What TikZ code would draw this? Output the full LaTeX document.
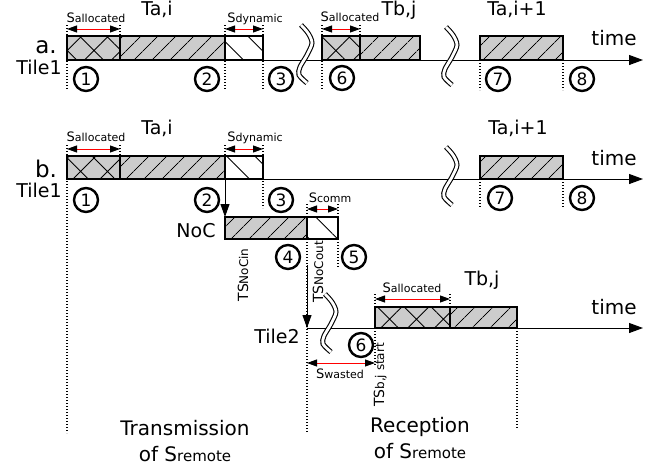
\documentclass[tikz,border=0pt]{standalone}
\usepackage{fontspec}
\setmainfont{DejaVu Sans}
\usetikzlibrary{arrows.meta,patterns.meta}
\newcommand\fsz[1]{\fontsize{#1}{#1}\selectfont}
\newcommand\Ssub[1]{{\fsz{13}S}{\fsz{11}#1}}
\newcommand\TSsub[1]{{\fsz{14}TS}{\fsz{12}#1}}
\begin{document}
\begin{tikzpicture}[x=1pt,y=-1pt,
  gbox/.style={draw, line width=1.8pt, inner sep=0pt, outer sep=0pt, anchor=north west, preaction={fill=gray!40}},
  hatchbox/.style={gbox, pattern={Lines[angle=45,distance=13pt,line width=0.9pt]}},
  xbox/.style={gbox, pattern={Hatch[angle=45,distance=19pt,line width=0.9pt]}},
  dynbox/.style={draw, line width=1.8pt, inner sep=0pt, outer sep=0pt, anchor=north west, preaction={fill=white}, pattern={Lines[angle=-45,distance=20pt,line width=0.9pt]}},
  dotline/.style={line width=1.5pt, dash pattern=on 1.4pt off 1.6pt},
  dimarrow/.style={red, line width=0.9pt, {Triangle[length=10pt,width=7pt,color=black]}-{Triangle[length=10pt,width=7pt,color=black]}},
  axisline/.style={line width=1pt, -{Triangle[length=14pt,width=10pt]}},
  varrow/.style={line width=1pt, -{Triangle[length=13pt,width=9pt]}},
  num/.style={circle, draw, line width=2.4pt, minimum size=24pt, inner sep=0pt, font=\fsz{17}},
  lab/.style={inner sep=0pt, anchor=base, font=\fsz{19}},
  biglab/.style={inner sep=0pt, anchor=base, font=\fsz{20}},
  sm/.style={inner sep=0pt, anchor=base},
  brk/.pic={\draw[double=white, double distance=2.8pt, line width=1.1pt] plot[smooth] coordinates {(0,0) (7,8) (11,18) (6,30) (-1,42) (-2,50) (6,58)};}
]
\useasboundingbox (0,0) rectangle (659,467);

% ---------------- (a) ----------------
\coordinate (aax0) at (67,60);
\coordinate (aax1) at (643,60);
\draw[axisline] (aax0) -- (aax1);
\pic at (301,25) {brk};
\pic at (446,27) {brk};

\node[xbox, minimum width=53pt, minimum height=24pt] (a1) at (67,36) {};
\node[hatchbox, minimum width=105pt, minimum height=24pt] (a2) at (120,36) {};
\node[dynbox, minimum width=38pt, minimum height=24pt] (a3) at (225,36) {};
\node[xbox, minimum width=38pt, minimum height=24pt] (a4) at (322,36) {};
\node[hatchbox, minimum width=60pt, minimum height=24pt] (a5) at (360,36) {};
\node[hatchbox, minimum width=83pt, minimum height=24pt] (a6) at (480,36) {};

\draw[dotline] (67,25) -- (67,90);
\draw[dotline] (120,25) -- (120,36);
\draw[dotline] (225,25) -- (225,90);
\draw[dotline] (263,25) -- (263,90);
\draw[dotline] (322,25) -- (322,90);
\draw[dotline] (360,25) -- (360,36);
\draw[dotline] (480,60) -- (480,90);
\draw[dotline] (563,60) -- (563,90);

\coordinate (ad1) at (67,29); \coordinate (ad2) at (120,29);
\coordinate (ad3) at (225,29); \coordinate (ad4) at (263,29);
\coordinate (ad5) at (322,29); \coordinate (ad6) at (360,29);
\draw[dimarrow] (ad1) -- (ad2);
\draw[dimarrow] (ad3) -- (ad4);
\draw[dimarrow] (ad5) -- (ad6);

\node[lab, font=\fsz{23}] (alabel) at (46,53) {a.};
\node[lab] (atile) at (39,74) {Tile1};
\node[lab] (aTai) at (157,15) {Ta,i};
\node[sm] (asal) at (96,22) {\Ssub{allocated}};
\node[sm] (asdyn) at (255,22) {\Ssub{dynamic}};
\node[sm] (asal2) at (350,21) {\Ssub{allocated}};
\node[lab] (aTbj) at (399,15) {Tb,j};
\node[lab] (aTai1) at (517,15) {Ta,i+1};
\node[biglab] (atime) at (614,45) {time};

\node[num] (an1) at (86,79) {1};
\node[num] (an2) at (207,79) {2};
\node[num] (an3) at (281,79) {3};
\node[num] (an6) at (342,78) {6};
\node[num] (an7) at (498,79) {7};
\node[num] (an8) at (582,79) {8};

% ---------------- (b) ----------------
\coordinate (bax0) at (67,179);
\coordinate (bax1) at (643,179);
\draw[axisline] (bax0) -- (bax1);
\pic at (446,147) {brk};

\node[xbox, minimum width=53pt, minimum height=23pt] (b1) at (67,156) {};
\node[hatchbox, minimum width=105pt, minimum height=23pt] (b2) at (120,156) {};
\node[dynbox, minimum width=38pt, minimum height=23pt] (b3) at (225,156) {};
\node[hatchbox, minimum width=83pt, minimum height=23pt] (b6) at (480,156) {};

\draw[dotline] (67,145) -- (67,433);
\draw[dotline] (120,145) -- (120,156);
\draw[dotline] (225,145) -- (225,156);
\draw[dotline] (263,145) -- (263,208);
\draw[dotline] (480,179) -- (480,208);
\draw[dotline] (563,179) -- (563,208);

\coordinate (bd1) at (67,149); \coordinate (bd2) at (120,149);
\coordinate (bd3) at (225,149); \coordinate (bd4) at (263,149);
\draw[dimarrow] (bd1) -- (bd2);
\draw[dimarrow] (bd3) -- (bd4);

\node[lab, font=\fsz{23}] (blabel) at (46,177) {b.};
\node[lab] (btile) at (39,197) {Tile1};
\node[lab] (bTai) at (157,134) {Ta,i};
\node[sm] (bsal) at (96,141) {\Ssub{allocated}};
\node[sm] (bsdyn) at (255,141) {\Ssub{dynamic}};
\node[lab] (bTai1) at (518,134) {Ta,i+1};
\node[biglab] (btime) at (614,165) {time};

\node[num] (bn1) at (86,200) {1};
\node[num] (bn2) at (207,200) {2};
\node[num] (bn3) at (281,200) {3};
\node[num] (bn7) at (500,198) {7};
\node[num] (bn8) at (582,198) {8};

% ---------------- NoC ----------------
\node[hatchbox, minimum width=82pt, minimum height=22pt] (n1) at (225,217) {};
\node[dynbox, minimum width=31pt, minimum height=22pt] (n2) at (307,217) {};
\coordinate (tout) at (225,179);
\draw[varrow] (tout) -- (n1.north west);

\draw[dotline] (307,204) -- (307,217);
\draw[dotline] (338,204) -- (338,217);
\draw[dotline] (307,239) -- (307,433);
\draw[dotline] (338,239) -- (338,268);
\coordinate (nd1) at (307,209); \coordinate (nd2) at (338,209);
\draw[dimarrow] (nd1) -- (nd2);
\node[sm] (scomm) at (330,202) {\Ssub{comm}};
\node[lab] (noc) at (196,237) {NoC};
\node[num] (nn4) at (288,257) {4};
\node[num] (nn5) at (354,257) {5};
\node[sm, rotate=90] (tsin) at (248,275) {\TSsub{NoCin}};
\node[sm, rotate=90] (tsout) at (323,272) {\TSsub{NoCout}};

% ---------------- Tile2 ----------------
\coordinate (cax0) at (307,328);
\coordinate (cax1) at (643,328);
\draw[axisline] (cax0) -- (cax1);
\coordinate (nout) at (307,265);
\draw[varrow] (nout) -- (cax0);
\pic at (325,294) {brk};

\node[xbox, minimum width=75pt, minimum height=21pt] (c1) at (375,307) {};
\node[hatchbox, minimum width=67pt, minimum height=21pt] (c2) at (450,307) {};

\draw[dotline] (375,294) -- (375,307);
\draw[dotline] (450,294) -- (450,307);
\draw[dotline] (375,328) -- (375,365);
\draw[dotline] (517,328) -- (517,428);
\coordinate (cd1) at (375,299); \coordinate (cd2) at (450,299);
\draw[dimarrow] (cd1) -- (cd2);
\coordinate (wd1) at (307,363); \coordinate (wd2) at (375,363);
\draw[dimarrow] (wd1) -- (wd2);

\node[lab] (ctile) at (277,343) {Tile2};
\node[biglab] (ctime) at (614,314) {time};
\node[sm] (csal) at (412,292) {\Ssub{allocated}};
\node[lab] (cTbj) at (482,285) {Tb,j};
\node[num] (cn6) at (361,345) {6};
\node[sm] (swaste) at (340,378) {\Ssub{wasted}};
\node[sm, rotate=90] (tsb) at (384,375) {\TSsub{b,j start}};

% ---------------- bottom ----------------
\node[biglab] (trans) at (185,435) {Transmission};
\node[biglab] (trans2) at (185,461) {of {\fsz{20}S}{\fsz{15}remote}};
\node[biglab] (recep) at (420,432) {Reception};
\node[biglab] (recep2) at (420,458) {of {\fsz{20}S}{\fsz{15}remote}};
\end{tikzpicture}
\end{document}
